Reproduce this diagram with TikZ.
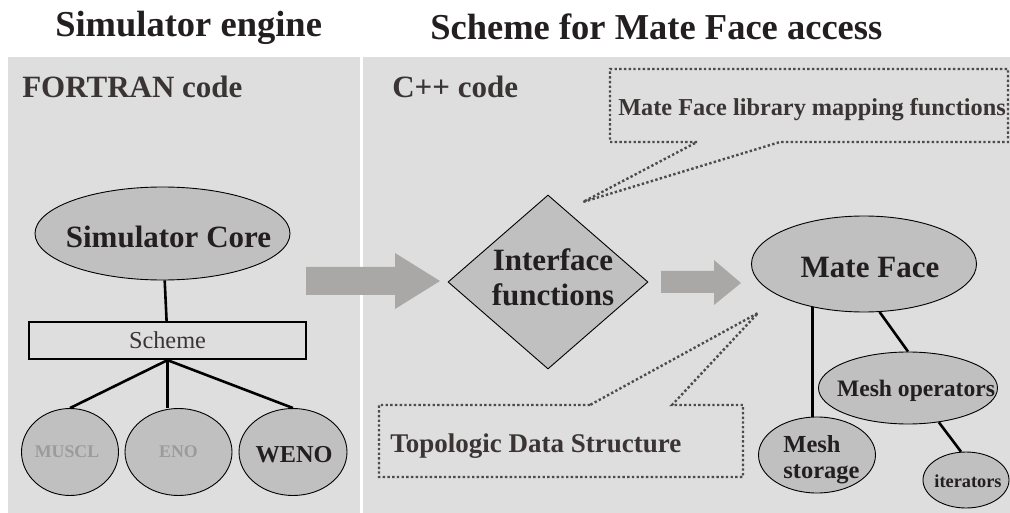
\documentclass[tikz,border=0pt]{standalone}
\usepackage{fontspec}
\setmainfont{Liberation Serif}
\usetikzlibrary{shapes.geometric,positioning}
\definecolor{panelgray}{HTML}{DEDEDE}
\definecolor{shapegray}{HTML}{C0C0C0}
\definecolor{arrowgray}{HTML}{AAA8A6}
\definecolor{dotgray}{HTML}{4D4B4B}
\definecolor{txtdark}{HTML}{231F20}
\definecolor{txtmid}{HTML}{3A3435}
\definecolor{txtpale}{HTML}{9C9A9A}

\begin{document}
\begin{tikzpicture}[x=1pt,y=-1pt,semithick]
  \tikzstyle{every node}=[inner sep=0pt,text=txtdark]
  \tikzstyle{blob}=[draw,ellipse,fill=shapegray,line width=0.9pt]
  \tikzstyle{tree}=[draw,line width=2.6pt,black]
  \tikzstyle{callout}=[draw=dotgray,line width=2.4pt,dash pattern=on 2.4pt off 2.3pt]
  \tikzstyle{bigarrow}=[fill=arrowgray]
  \tikzstyle{huge}=[font=\bfseries\fontsize{36.5}{40}\selectfont]
  \tikzstyle{big}=[font=\bfseries\fontsize{31}{35}\selectfont]
  \tikzstyle{mid}=[font=\bfseries\fontsize{24.3}{26}\selectfont]
  \tikzstyle{small}=[font=\bfseries\fontsize{17.8}{20}\selectfont]

  \useasboundingbox (0,0) rectangle (1010,513);
  \fill[panelgray] (8,57) rectangle (360,513);
  \fill[panelgray] (363,57) rectangle (1010,513);

  \node[huge,anchor=base west] (engine) at (55,37) {Simulator engine};
  \node[huge,anchor=base west] (access) at (430,40) {Scheme for Mate Face access};
  \node[big,anchor=base west,text=txtmid] (fortran) at (22,98) {FORTRAN code};
  \node[big,anchor=base west,text=txtmid] (cpp) at (392,98) {C++ code};

  % left side
  \node[blob,minimum width=255pt,minimum height=93pt,
        label={[big,xshift=6pt,yshift=-3pt]center:Simulator Core}] (core) at (162.5,233.5) {};
  \node[draw,line width=2.3pt,minimum width=277pt,minimum height=37pt,
        font=\fontsize{24.3}{26}\selectfont,text=txtmid] (scheme) at (167.5,340.5) {Scheme};
  \node[blob,minimum width=97pt,minimum height=87pt,
        label={[small,text=txtpale,xshift=-3pt]center:MUSCL}] (muscl) at (70,452) {};
  \node[blob,minimum width=107pt,minimum height=87pt,
        label={[small,text=txtpale]center:ENO}] (eno) at (178.5,452) {};
  \node[blob,minimum width=108pt,minimum height=87pt,
        label={[mid,xshift=1pt,yshift=-3pt]center:WENO}] (weno) at (293,452) {};

  \path[tree] (core) edge (scheme);
  \path[tree] (scheme.south) edge (muscl.north);
  \path[tree] (scheme.south) edge (scheme.south |- eno.north);
  \path[tree] (scheme.south) edge (weno.north);

  \fill[bigarrow] (306,267) -- (395,267) -- (395,253) -- (440,281)
                  -- (395,309) -- (395,295) -- (306,295) -- cycle;

  % right side
  \node[draw,diamond,fill=shapegray,line width=0.9pt,minimum width=200pt,minimum height=174pt,
        label={[big,align=center,xshift=5pt,yshift=5pt]center:Interface\\functions}] (iface) at (548,282) {};

  \fill[bigarrow] (661,271) -- (714,271) -- (714,260) -- (741,283)
                  -- (714,305) -- (714,293) -- (661,293) -- cycle;

  \node[blob,minimum width=225pt,minimum height=96pt,
        label={[big,xshift=6pt,yshift=-4pt]center:Mate Face}] (mateface) at (864,264) {};
  \node[blob,minimum width=179pt,minimum height=72pt,
        label={[font=\bfseries\fontsize{23.6}{26}\selectfont,xshift=8pt,yshift=-3pt]center:Mesh operators}] (meshops) at (908,388) {};
  \node[blob,minimum width=117pt,minimum height=76pt,
        label={[font=\bfseries\fontsize{24.5}{26}\selectfont,align=left,xshift=4.5pt,yshift=-5pt]center:Mesh\\storage}] (storage) at (817,455) {};
  \node[blob,minimum width=86pt,minimum height=56pt,
        label={[font=\bfseries\fontsize{18.3}{20}\selectfont,xshift=2pt,yshift=-1pt]center:iterators}] (iterators) at (966,480) {};

  \path[tree] (mateface.220) edge (mateface.220 |- storage.north);
  \path[tree] (mateface.288) edge (meshops.north);
  \path[tree] (meshops.312) edge (iterators.100);

  \draw[callout] (697,142) -- (610,142) -- (610,69) -- (1008,69) -- (1008,142)
                 -- (780,142) -- (583,202) -- cycle;
  \node[mid,anchor=base west,text=txtmid] (mapping) at (618,116) {Mate Face library mapping functions};

  \draw[callout] (590,405) -- (379,405) -- (379,477) -- (743,477) -- (743,405)
                 -- (672,405) -- (758,313) -- cycle;
  \node[font=\bfseries\fontsize{27}{30}\selectfont,anchor=base west,text=txtmid] (topo) at (390,452) {Topologic Data Structure};
\end{tikzpicture}
\end{document}
